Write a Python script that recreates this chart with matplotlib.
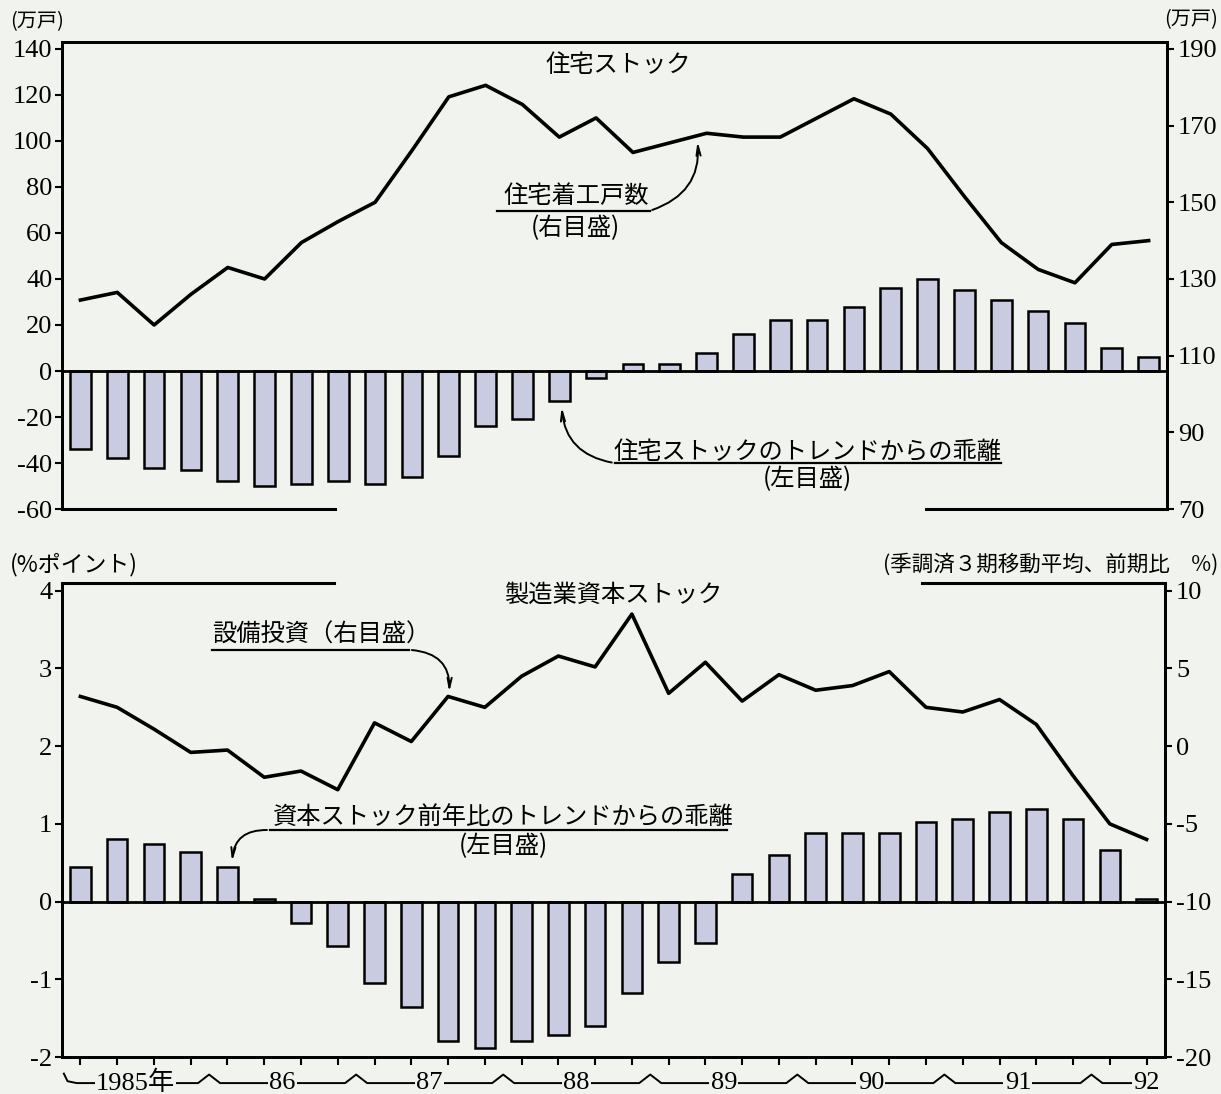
import numpy as np
import matplotlib
matplotlib.use("Agg")
import matplotlib.pyplot as plt
from matplotlib import transforms

# 1985 I ~ 1992 II (trimestres)
trimestres = np.arange(30)
etiquetas_anos = ["1985年", "86", "87", "88", "89", "90", "91", "92"]

# panel superior: 住宅ストック
desvio_vivienda = [-34, -38, -42, -43, -48, -50, -49, -48, -49, -46,
                   -37, -24, -21, -13, -3, 3, 3, 8, 16, 22,
                   22, 28, 36, 40, 35, 31, 26, 21, 10, 6]
inicios_vivienda = [124.5, 126.5, 118, 126, 133, 130, 139.5, 145, 150, 163.5,
                    177.5, 180.5, 175.5, 167, 172, 163, 165.5, 168, 167, 167,
                    172, 177, 173, 164, 151.5, 139.5, 132.5, 129, 139, 140]

# panel inferior: 製造業資本ストック
desvio_capital = [0.45, 0.8, 0.74, 0.64, 0.45, 0.03, -0.27, -0.57, -1.05, -1.35,
                  -1.8, -1.88, -1.8, -1.72, -1.6, -1.18, -0.78, -0.53, 0.36, 0.6,
                  0.88, 0.88, 0.88, 1.03, 1.06, 1.15, 1.19, 1.06, 0.67, 0.03]
inversion_equipo = [3.2, 2.5, 1.1, -0.4, -0.25, -2.0, -1.6, -2.8, 1.5, 0.3,
                    3.2, 2.5, 4.5, 5.8, 5.1, 8.5, 3.4, 5.4, 2.9, 4.6,
                    3.6, 3.9, 4.8, 2.5, 2.2, 3.0, 1.4, -1.9, -5.0, -6.0]

fondo = "#f1f4ee"
color_barra = "#c9cbe0"
fuente_num = ["Liberation Serif", "Noto Sans CJK JP"]
fuente_jp = ["Noto Sans CJK JP", "DejaVu Sans"]
tam_jp = 17.5

plt.rcParams["font.family"] = fuente_num
plt.rcParams["axes.unicode_minus"] = False
plt.rcParams["axes.linewidth"] = 2.0


def preparar_ejes(ax, ax2, ylim_izq, ylim_der, ticks_izq, ticks_der):
    ax.set_xlim(-0.5, 29.5)
    ax.set_ylim(*ylim_izq)
    ax2.set_ylim(*ylim_der)
    ax.set_yticks(ticks_izq)
    ax2.set_yticks(ticks_der)
    ax.set_facecolor("none")
    ax2.set_facecolor("none")
    ax.tick_params(axis="y", direction="out", length=5, width=1.5, pad=2, labelsize=19)
    ax2.tick_params(axis="y", direction="out", length=5, width=1.5, pad=3, labelsize=19)
    ax.axhline(0, color="black", lw=2, zorder=3)


def linea_parcial(ax, y, tramos):
    for x0, x1 in tramos:
        ax.plot([x0, x1], [y, y], color="black", lw=2.2, clip_on=False, zorder=4)


def texto_jp(ax, x, y, s, ha="center"):
    ax.text(x, y, s, ha=ha, va="center", fontsize=tam_jp, fontfamily=fuente_jp)


flecha = dict(arrowstyle="->,head_length=0.7,head_width=0.15", color="black", lw=1.4)

fig = plt.figure(figsize=(12.21, 10.94), dpi=100, facecolor=fondo)

# ---------------- panel superior ----------------
ax1 = fig.add_axes([0.0508, 0.5347, 0.905, 0.4269])
ax1b = ax1.twinx()
preparar_ejes(ax1, ax1b, (-60, 143), (70, 191.8),
              np.arange(-60, 141, 20), np.arange(70, 191, 20))
ax1.bar(trimestres, desvio_vivienda, width=0.56, color=color_barra,
        edgecolor="black", linewidth=1.8, zorder=2)
ax1b.plot(trimestres, inicios_vivienda, color="black", lw=2.6)
ax1.set_xticks([])
for a in (ax1, ax1b):
    a.spines["bottom"].set_visible(False)
linea_parcial(ax1, -60, [(-0.5, 6.9), (22.95, 29.5)])

texto_jp(ax1, 14.6, 133, "住宅ストック")
texto_jp(ax1, 13.45, 76, "住宅着工戸数")
texto_jp(ax1, 13.45, 62, "(右目盛)")
ax1.plot([11.3, 15.45], [69.6, 69.6], color="black", lw=1.6)
ax1.annotate("", xy=(16.75, 101), xytext=(15.45, 69.6),
             arrowprops=dict(flecha, connectionstyle="arc3,rad=0.4"))
texto_jp(ax1, 19.73, -35, "住宅ストックのトレンドからの乖離")
texto_jp(ax1, 19.73, -47, "(左目盛)")
ax1.plot([14.5, 25.0], [-40, -40], color="black", lw=1.6)
ax1.annotate("", xy=(13.06, -14.5), xytext=(14.5, -40),
             arrowprops=dict(flecha, connectionstyle="arc3,rad=-0.4"))

fig.text(0.008, 0.980, "(万戸)", ha="left", va="center", fontsize=14.5, fontfamily=fuente_jp)
fig.text(0.9975, 0.982, "(万戸)", ha="right", va="center", fontsize=14.5, fontfamily=fuente_jp)

# ---------------- panel inferior ----------------
ax2 = fig.add_axes([0.0508, 0.0338, 0.9033, 0.4333])
ax2b = ax2.twinx()
preparar_ejes(ax2, ax2b, (-2, 4.1), (-20, 10.5),
              np.arange(-2, 5, 1), np.arange(-20, 11, 5))
ax2.bar(trimestres, desvio_capital, width=0.56, color=color_barra,
        edgecolor="black", linewidth=1.8, zorder=2)
ax2b.plot(trimestres, inversion_equipo, color="black", lw=2.6)
for a in (ax2, ax2b):
    a.spines["top"].set_visible(False)
linea_parcial(ax2, 4.1, [(-0.5, 6.9), (22.9, 29.5)])
ax2.set_xticks(trimestres)
ax2.set_xticklabels([])
ax2.tick_params(axis="x", direction="out", length=6, width=1.5)

texto_jp(ax2, 14.5, 3.95, "製造業資本ストック")
texto_jp(ax2, 3.58, 3.44, "設備投資（右目盛）", ha="left")
ax2.plot([3.58, 8.94], [3.24, 3.24], color="black", lw=1.6)
ax2.annotate("", xy=(10.03, 2.66), xytext=(8.94, 3.24),
             arrowprops=dict(flecha, connectionstyle="arc3,rad=-0.5"))
texto_jp(ax2, 11.5, 1.09, "資本ストック前年比のトレンドからの乖離")
texto_jp(ax2, 11.5, 0.71, "(左目盛)")
ax2.plot([5.15, 17.6], [0.92, 0.92], color="black", lw=1.6)
ax2.annotate("", xy=(4.12, 0.48), xytext=(5.15, 0.92),
             arrowprops=dict(flecha, connectionstyle="arc3,rad=0.5"))

fig.text(0.008, 0.4836, "(%ポイント)", ha="left", va="center", fontsize=16.5, fontfamily=fuente_jp)
fig.text(0.9975, 0.4836, "(季調済３期移動平均、前期比　%)", ha="right", va="center",
         fontsize=15.5, fontfamily=fuente_jp)

# eje de años con separadores
mezcla = transforms.blended_transform_factory(ax2.transData, ax2.transAxes)
y0, alto = -0.055, 0.018
xs, ys = [-0.45, -0.35, -0.1], [y0 + 0.02, y0 + 0.004, y0]
for b in np.arange(3.5, 28, 4):
    xs += [b - 0.3, b, b + 0.3]
    ys += [y0, y0 + alto, y0]
xs.append(28.7)
ys.append(y0)
ax2.plot(xs, ys, color="black", lw=1.4, transform=mezcla, clip_on=False)
for k, etiqueta in enumerate(etiquetas_anos):
    xc = min(4 * k + 1.5, 29.0)
    ax2.text(xc, y0, etiqueta, transform=mezcla, ha="center", va="center", fontsize=19,
             bbox=dict(boxstyle="square,pad=0.05", fc=fondo, ec="none"), zorder=5)

fig.savefig("out.png", dpi=100, facecolor=fondo)
